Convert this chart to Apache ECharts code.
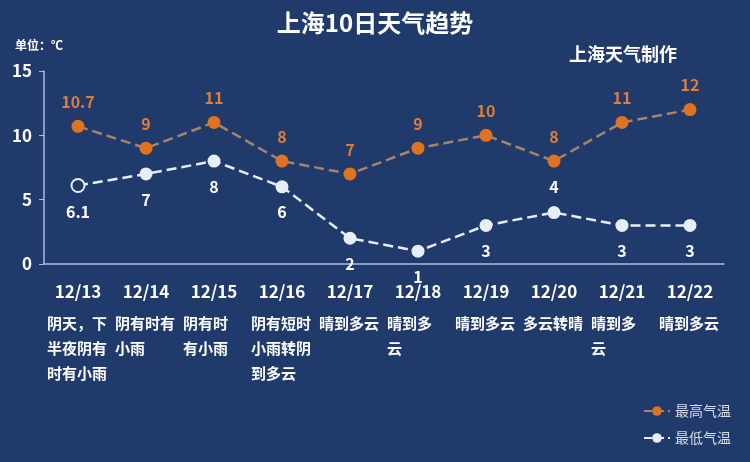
<!DOCTYPE html>
<html><head><meta charset="utf-8">
<script src="https://cdn.jsdelivr.net/npm/echarts@6/dist/echarts.min.js"></script>
<style>html,body{margin:0;padding:0;background:#1f3a6b;}#c{width:750px;height:462px;}</style>
</head><body><div id="c"></div>
<script>
const dates = ['12/13','12/14','12/15','12/16','12/17','12/18','12/19','12/20','12/21','12/22'];
const weather = [
  ['阴天，下','半夜阴有','时有小雨'],
  ['阴有时有','小雨'],
  ['阴有时','有小雨'],
  ['阴有短时','小雨转阴','到多云'],
  ['晴到多云'],
  ['晴到多','云'],
  ['晴到多云'],
  ['多云转晴'],
  ['晴到多','云'],
  ['晴到多云']
];
const highTemp = [10.7, 9, 11, 8, 7, 9, 10, 8, 11, 12];
const lowTemp = [6.1, 7, 8, 6, 2, 1, 3, 4, 3, 3];
const yTicks = [0, 5, 10, 15];

const BG = '#1f3a6b';
const FONT = '"Noto Sans CJK SC", sans-serif';
const chart = echarts.init(document.getElementById('c'));
chart.setOption({
  backgroundColor: BG,
  textStyle: {fontFamily: FONT},
  title: [
    {text: '上海10日天气趋势', left: 'center', top: 6, textStyle: {color: '#ffffff', fontSize: 24, fontWeight: 'bold', fontFamily: FONT}},
    {text: '上海天气制作', left: 564, top: 40, textStyle: {color: '#ffffff', fontSize: 18, fontWeight: 'bold', fontFamily: FONT}},
    {text: '单位：℃', left: 10, top: 34, textStyle: {color: '#ffffff', fontSize: 12, fontWeight: 'bold', fontFamily: FONT}}
  ],
  legend: {
    orient: 'vertical', right: 14, bottom: 12, itemGap: 13, itemWidth: 26, itemHeight: 12,
    textStyle: {color: '#d8dde8', fontSize: 14, fontFamily: FONT},
    data: ['最高气温', '最低气温']
  },
  grid: {left: 44, right: 26, top: 71, bottom: 198},
  xAxis: {
    type: 'category', data: dates, boundaryGap: true,
    axisLine: {lineStyle: {color: '#a9bde0', width: 1.5}},
    axisTick: {show: false},
    axisLabel: {
      interval: 0, margin: 9,
      formatter: function (v, i) {
        return '{d|' + v + '}\n' + weather[i].map(s => '{t|' + s + '}').join('\n');
      },
      rich: {
        d: {color: '#ffffff', fontSize: 17, fontWeight: 'bold', lineHeight: 38, width: 62, align: 'center', fontFamily: FONT},
        t: {color: '#ffffff', fontSize: 15, fontWeight: 'bold', lineHeight: 25, width: 60, align: 'left', fontFamily: FONT}
      }
    }
  },
  yAxis: {
    type: 'value', min: yTicks[0], max: yTicks[yTicks.length - 1], interval: 5,
    axisLine: {show: true, lineStyle: {color: '#a9bde0', width: 1.5}},
    axisTick: {show: true, length: 5, lineStyle: {color: '#a9bde0'}},
    splitLine: {show: false},
    axisLabel: {color: '#ffffff', fontSize: 17, fontWeight: 'bold', margin: 12, fontFamily: FONT}
  },
  series: [
    {
      name: '最高气温', type: 'line', data: highTemp,
      symbol: 'circle', symbolSize: 13,
      itemStyle: {color: '#e0731f'},
      lineStyle: {color: '#a8836b', width: 2.5, type: 'dashed'},
      label: {show: true, position: 'top', distance: 10, color: '#e07b39', fontSize: 16, fontWeight: 'bold', fontFamily: FONT}
    },
    {
      name: '最低气温', type: 'line',
      data: lowTemp.map((v, i) => ({
        value: v,
        itemStyle: i === 0 ? {color: BG, borderColor: '#e8eef8', borderWidth: 2} : undefined,
        label: {position: i === 7 ? 'top' : 'bottom'}
      })),
      symbol: 'circle', symbolSize: 13,
      itemStyle: {color: '#e8eef8'},
      lineStyle: {color: '#e8eef8', width: 2.5, type: 'dashed'},
      label: {show: true, distance: 11, color: '#ffffff', fontSize: 16, fontWeight: 'bold', fontFamily: FONT}
    }
  ]
});
</script></body></html>
